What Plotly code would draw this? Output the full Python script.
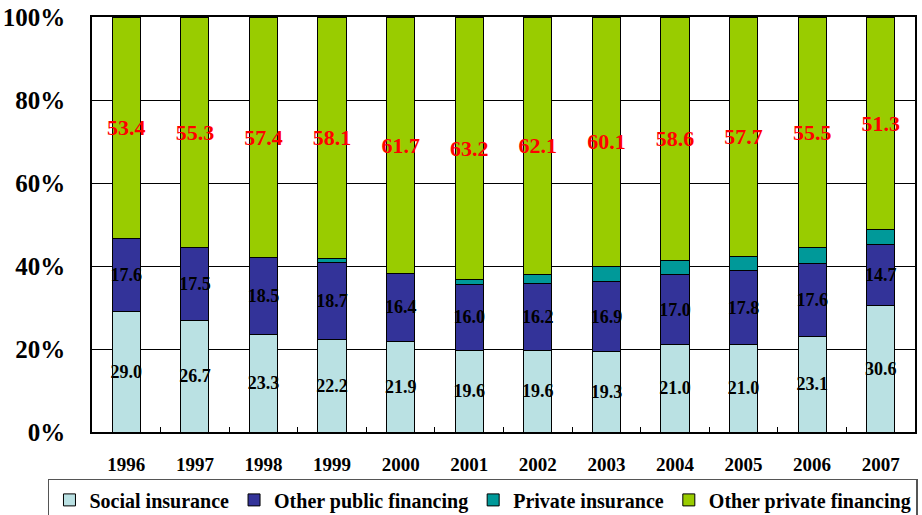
import plotly.graph_objects as go

years = ["1996", "1997", "1998", "1999", "2000", "2001",
         "2002", "2003", "2004", "2005", "2006", "2007"]
social_insurance = [29.0, 26.7, 23.3, 22.2, 21.9, 19.6, 19.6, 19.3, 21.0, 21.0, 23.1, 30.6]
other_public = [17.6, 17.5, 18.5, 18.7, 16.4, 16.0, 16.2, 16.9, 17.0, 17.8, 17.6, 14.7]
private_insurance = [0.0, 0.0, 0.0, 1.0, 0.0, 1.2, 2.1, 3.7, 3.4, 3.5, 3.8, 3.4]
other_private = [53.4, 55.3, 57.4, 58.1, 61.7, 63.2, 62.1, 60.1, 58.6, 57.7, 55.5, 51.3]

FONT = "Liberation Serif"

series = [
    ("Social insurance", social_insurance, "#BAE1E3", "black", 18),
    ("Other public financing", other_public, "#333399", "black", 18),
    ("Private insurance", private_insurance, "#009999", None, 18),
    ("Other private financing", other_private, "#99CC00", "red", 22),
]

fig = go.Figure()
for name, vals, color, label_color, size in series:
    if label_color:
        kw = dict(
            text=[f"<b>{v:.1f}</b>" for v in vals],
            textposition="inside",
            insidetextanchor="middle",
            textangle=0,
            textfont=dict(family=FONT, size=size, color=label_color),
        )
    else:
        kw = dict(textposition="none")
    fig.add_trace(go.Bar(
        name=f"<b>{name}</b>", x=years, y=vals,
        marker=dict(color=color, line=dict(color="black", width=1)),
        hoverinfo="x+y",
        **kw,
    ))

fig.update_layout(
    barmode="stack",
    barnorm="percent",
    bargap=0.59,
    width=922, height=515,
    margin=dict(l=92, r=7, t=17, b=83, autoexpand=False),
    plot_bgcolor="white",
    paper_bgcolor="white",
    font=dict(family=FONT, color="black"),
    uniformtext=dict(minsize=18, mode="show"),
    xaxis=dict(
        showline=True, linecolor="black", linewidth=1.5, mirror=True,
        ticks="inside", tickson="boundaries", ticklen=5, tickcolor="black",
        tickvals=years, ticktext=[f"<b>{y}</b>" for y in years],
        tickfont=dict(family=FONT, size=19),
        ticklabelstandoff=14,
        showgrid=False,
    ),
    yaxis=dict(
        range=[0, 100], tickvals=[0, 20, 40, 60, 80, 100],
        ticktext=[f"<b>{t}%</b>" for t in [0, 20, 40, 60, 80, 100]],
        showline=True, linecolor="black", linewidth=1.5, mirror=True,
        showgrid=True, gridcolor="black", gridwidth=1,
        tickfont=dict(family=FONT, size=25),
        ticks="", ticklabelstandoff=20,
    ),
    legend=dict(
        orientation="h", x=-0.0535, xanchor="left", y=-0.113, yanchor="top",
        bordercolor="#555555", borderwidth=1.5,
        font=dict(family=FONT, size=20),
        traceorder="normal",
    ),
)

fig.write_html("out.html")
